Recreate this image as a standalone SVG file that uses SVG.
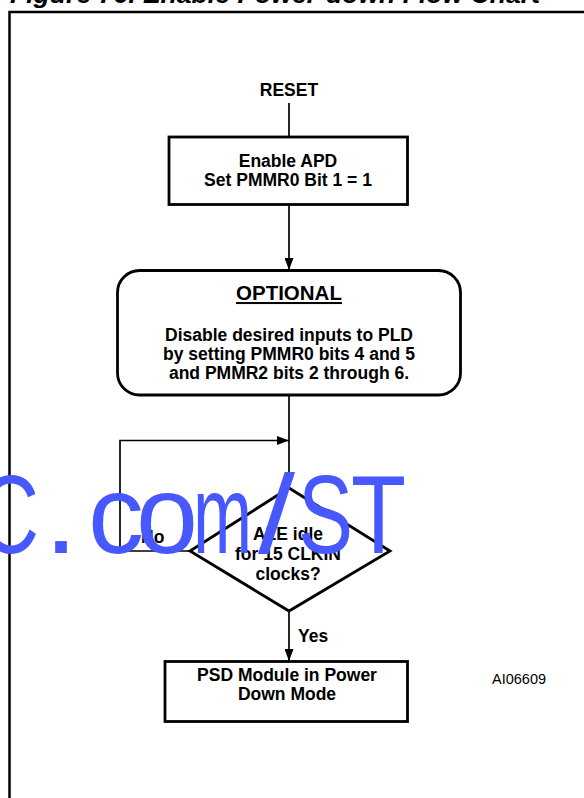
<svg xmlns="http://www.w3.org/2000/svg" width="584" height="798" viewBox="0 0 584 798">
<style>
.t{font-family:"Liberation Sans",Arial,sans-serif;font-weight:bold;font-size:17.5px;text-anchor:middle;fill:#000}
.box{fill:#fff;stroke:#000;stroke-width:2.8}
.ln{fill:none;stroke:#000;stroke-width:1.7}
.wm{font-family:"Liberation Sans",Arial,sans-serif;font-size:112px;fill:#4758FF}
</style>
<defs>
<marker id="ah" viewBox="0 0 12 9" refX="12" refY="4.5" markerWidth="12" markerHeight="9" orient="auto" markerUnits="userSpaceOnUse"><path d="M0,0 L12,4.5 L0,9 z" fill="#000"/></marker>
</defs>
<rect width="584" height="798" fill="#fff"/>
<text x="10" y="3" textLength="530" lengthAdjust="spacingAndGlyphs" style="font-family:'Liberation Sans',Arial,sans-serif;font-weight:bold;font-style:italic;font-size:26px">Figure 76. Enable Power-down Flow Chart</text>
<path d="M9.5,798 V12 H590" fill="none" stroke="#000" stroke-width="2.5"/>
<g id="connectors">
<line class="ln" x1="289" y1="103" x2="289" y2="137"/>
<line class="ln" x1="289" y1="205" x2="289" y2="270" marker-end="url(#ah)"/>
<line class="ln" x1="289" y1="396" x2="289" y2="488" marker-end="url(#ah)"/>
<polyline class="ln" points="190,551 120,551 120,440.5 289,440.5" marker-end="url(#ah)"/>
<line class="ln" x1="289" y1="611" x2="289" y2="661" marker-end="url(#ah)"/>
<text class="t" x="141" y="543" style="text-anchor:start">No</text>
<text class="t" x="298" y="642" style="text-anchor:start">Yes</text>
</g>
<g id="reset">
<text class="t" x="289" y="96">RESET</text>
</g>
<g id="enable-apd">
<rect class="box" x="169" y="137" width="238.5" height="67.5"/>
<text class="t" x="288" y="167">Enable APD</text>
<text class="t" x="288" y="186">Set PMMR0 Bit 1 = 1</text>
</g>
<g id="optional">
<rect class="box" x="117.5" y="270.5" width="343" height="124.5" rx="22" ry="22"/>
<text class="t" x="289" y="300" style="font-size:20.5px;text-decoration:underline">OPTIONAL</text>
<text class="t" x="289" y="341">Disable desired inputs to PLD</text>
<text class="t" x="289" y="360">by setting PMMR0 bits 4 and 5</text>
<text class="t" x="289" y="379">and PMMR2 bits 2 through 6.</text>
</g>
<g id="decision">
<polygon class="box" points="289,488 390,551 289,611 190,551"/>
<text class="t" x="288" y="540">ALE idle</text>
<text class="t" x="288" y="560">for 15 CLKIN</text>
<text class="t" x="288" y="580">clocks?</text>
</g>
<g id="psd">
<rect class="box" x="165" y="661.5" width="242.5" height="60"/>
<text class="t" x="287" y="681">PSD Module in Power</text>
<text class="t" x="287" y="700">Down Mode</text>
</g>
<g id="label">
<text x="492" y="684" style="font-family:'Liberation Sans',Arial,sans-serif;font-size:14.5px">AI06609</text>
</g>
<g id="watermark">
<text class="wm" x="-21" y="553" textLength="60" lengthAdjust="spacingAndGlyphs">C</text>
<text class="wm" x="44" y="553" textLength="34" lengthAdjust="spacingAndGlyphs">.</text>
<text class="wm" x="88" y="553" textLength="56" lengthAdjust="spacingAndGlyphs">c</text>
<text class="wm" x="136" y="553" textLength="62" lengthAdjust="spacingAndGlyphs">o</text>
<text class="wm" x="193" y="553" textLength="59" lengthAdjust="spacingAndGlyphs">m</text>
<text class="wm" x="258" y="553" textLength="37" lengthAdjust="spacingAndGlyphs">/</text>
<text class="wm" x="298" y="553" textLength="55" lengthAdjust="spacingAndGlyphs">S</text>
<text class="wm" x="351" y="553" textLength="55" lengthAdjust="spacingAndGlyphs">T</text>
</g>
</svg>
